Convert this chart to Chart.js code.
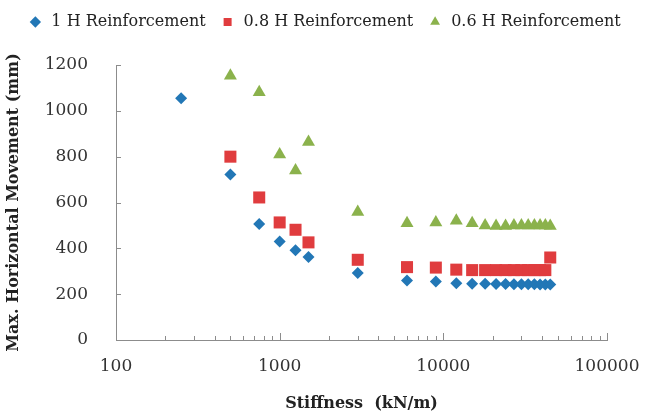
<!DOCTYPE html>
<html>
<head>
<meta charset="utf-8">
<script src="https://cdn.jsdelivr.net/npm/chart.js@4/dist/chart.umd.min.js"></script>
<style>
  html, body { margin: 0; background: #fff; }
</style>
</head>
<body>
<canvas id="movementChart" width="648" height="417"></canvas>
<script>
// stiffness values (kN/m), shared by all three series
const stiffness = [250, 500, 750, 1000, 1250, 1500, 3000, 6000, 9000, 12000, 15000,
  18000, 21000, 24000, 27000, 30000, 33000, 36000, 39000, 42000, 45000];

// max horizontal movement (mm)
const h100 = [1055, 722, 506, 430, 392, 362, 292, 260, 255, 248, 246,
  245, 244, 244, 243, 243, 243, 243, 242, 242, 242];
const h080 = [null, 800, 622, 513, 481, 426, 350, 318, 316, 307, 305,
  305, 305, 305, 305, 305, 305, 305, 305, 305, 360];
const h060 = [null, 1153, 1081, 810, 740, 864, 559, 510, 513, 520, 510,
  500, 498, 498, 500, 500, 500, 500, 500, 500, 498];

const xTicks = [100, 1000, 10000, 100000];
const yTicks = [0, 200, 400, 600, 800, 1000, 1200];

function toPoints(ys) {
  return stiffness.map((x, i) => ({ x: x, y: ys[i] })).filter(p => p.y !== null);
}

const serif = "'DejaVu Serif', 'Liberation Serif', serif";
const axisColor = '#8c8c8c';

// small tick marks drawn on the inside of the axes, like the original
const innerTicks = {
    id: 'innerTicks',
    beforeDatasetsDraw(chart) {
        const ctx = chart.ctx;
        const xs = chart.scales.x;
        const ys = chart.scales.y;
        const area = chart.chartArea;
        ctx.save();
        ctx.strokeStyle = axisColor;
        ctx.lineWidth = 1;
        ctx.beginPath();
        for (let d = 2; d < 5; d++) {
            for (let m = 1; m <= 10; m++) {
                const px = Math.round(xs.getPixelForValue(m * Math.pow(10, d))) + 0.5;
                const len = (m === 1 || m === 10) ? 7 : 4;
                ctx.moveTo(px, area.bottom);
                ctx.lineTo(px, area.bottom - len);
            }
        }
        yTicks.forEach(v => {
            const py = Math.round(ys.getPixelForValue(v)) + 0.5;
            ctx.moveTo(area.left, py);
            ctx.lineTo(area.left + 5, py);
        });
        ctx.stroke();
        ctx.restore();
    }
};

// extra room under the legend
const legendGap = {
    id: 'legendGap',
    beforeInit(chart) {
        const fit = chart.legend.fit;
        chart.legend.fit = function () {
            fit.bind(chart.legend)();
            this.height += 25;
        };
    }
};

const ctx = document.getElementById('movementChart').getContext('2d');

new Chart(ctx, {
    type: 'scatter',
    data: {
        datasets: [{
            label: '1 H Reinforcement',
            data: toPoints(h100),
            pointStyle: 'rectRot',
            pointRadius: 6,
            backgroundColor: '#2277b6',
            borderColor: '#2277b6',
            borderWidth: 0
        }, {
            label: '0.8 H Reinforcement',
            data: toPoints(h080),
            pointStyle: 'rect',
            pointRadius: 8.5,
            backgroundColor: '#e03c3e',
            borderColor: '#e03c3e',
            borderWidth: 0
        }, {
            label: '0.6 H Reinforcement',
            data: toPoints(h060),
            pointStyle: 'triangle',
            pointRadius: 7.5,
            backgroundColor: '#8bb24c',
            borderColor: '#8bb24c',
            borderWidth: 0
        }]
    },
    options: {
        responsive: false,
        animation: false,
        layout: { padding: 0 },
        plugins: {
            legend: {
                position: 'top',
                labels: {
                    usePointStyle: true,
                    boxHeight: 8,
                    padding: 14,
                    color: '#222',
                    font: { family: serif, size: 16 }
                }
            },
            tooltip: { enabled: false }
        },
        scales: {
            x: {
                type: 'logarithmic',
                min: 100,
                max: 100000,
                afterBuildTicks: s => { s.ticks = xTicks.map(v => ({ value: v })); },
                afterFit: s => { s.height = 77; s.paddingRight = 41; },
                grid: { display: false },
                border: { color: axisColor, width: 1 },
                ticks: {
                    autoSkip: false,
                    maxRotation: 0,
                    padding: 8,
                    color: '#333',
                    font: { family: serif, size: 17 },
                    callback: v => String(v)
                },
                title: {
                    display: true,
                    text: 'Stiffness  (kN/m)',
                    color: '#222',
                    padding: { top: 2 },
                    font: { family: serif, size: 16, weight: 'bold' }
                }
            },
            y: {
                min: 0,
                max: 1200,
                afterBuildTicks: s => { s.ticks = yTicks.map(v => ({ value: v })); },
                afterFit: s => { s.width = 116; },
                grid: { display: false },
                border: { color: axisColor, width: 1 },
                ticks: {
                    padding: 20,
                    color: '#333',
                    font: { family: serif, size: 17 },
                    callback: v => String(v)
                },
                title: {
                    display: true,
                    text: 'Max. Horizontal Movement (mm)',
                    color: '#222',
                    padding: { bottom: 0 },
                    font: { family: serif, size: 16, weight: 'bold' }
                }
            }
        }
    },
    plugins: [innerTicks, legendGap]
});
</script>
</body>
</html>
